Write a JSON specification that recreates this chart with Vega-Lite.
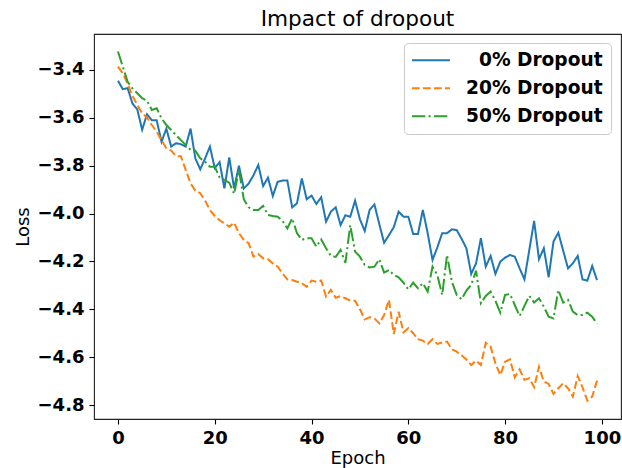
{
  "$schema": "https://vega.github.io/schema/vega-lite/v6.json",
  "width": 527,
  "height": 385,
  "autosize": "none",
  "padding": {"left": 94, "top": 34, "right": 1, "bottom": 49},
  "background": "white",
  "title": {
    "text": "Impact of dropout",
    "font": "DejaVu Sans",
    "fontSize": 21.6,
    "fontWeight": "normal",
    "color": "black",
    "anchor": "middle",
    "frame": "group",
    "baseline": "alphabetic",
    "offset": 8,
    "dy": 22
  },
  "data": {
    "values": [
      {"epoch": 0, "0% Dropout": -3.445, "20% Dropout": -3.386, "50% Dropout": -3.323},
      {"epoch": 1, "0% Dropout": -3.48, "20% Dropout": -3.414, "50% Dropout": -3.386},
      {"epoch": 2, "0% Dropout": -3.476, "20% Dropout": -3.456, "50% Dropout": -3.449},
      {"epoch": 3, "0% Dropout": -3.54, "20% Dropout": -3.509, "50% Dropout": -3.477},
      {"epoch": 4, "0% Dropout": -3.565, "20% Dropout": -3.546, "50% Dropout": -3.497},
      {"epoch": 5, "0% Dropout": -3.65, "20% Dropout": -3.581, "50% Dropout": -3.518},
      {"epoch": 6, "0% Dropout": -3.585, "20% Dropout": -3.598, "50% Dropout": -3.528},
      {"epoch": 7, "0% Dropout": -3.61, "20% Dropout": -3.63, "50% Dropout": -3.567},
      {"epoch": 8, "0% Dropout": -3.61, "20% Dropout": -3.658, "50% Dropout": -3.56},
      {"epoch": 9, "0% Dropout": -3.7, "20% Dropout": -3.693, "50% Dropout": -3.602},
      {"epoch": 10, "0% Dropout": -3.645, "20% Dropout": -3.727, "50% Dropout": -3.63},
      {"epoch": 11, "0% Dropout": -3.72, "20% Dropout": -3.737, "50% Dropout": -3.651},
      {"epoch": 12, "0% Dropout": -3.706, "20% Dropout": -3.76, "50% Dropout": -3.672},
      {"epoch": 13, "0% Dropout": -3.71, "20% Dropout": -3.76, "50% Dropout": -3.693},
      {"epoch": 14, "0% Dropout": -3.72, "20% Dropout": -3.818, "50% Dropout": -3.713},
      {"epoch": 15, "0% Dropout": -3.645, "20% Dropout": -3.874, "50% Dropout": -3.734},
      {"epoch": 16, "0% Dropout": -3.77, "20% Dropout": -3.904, "50% Dropout": -3.737},
      {"epoch": 17, "0% Dropout": -3.815, "20% Dropout": -3.915, "50% Dropout": -3.769},
      {"epoch": 18, "0% Dropout": -3.77, "20% Dropout": -3.946, "50% Dropout": -3.783},
      {"epoch": 19, "0% Dropout": -3.72, "20% Dropout": -3.985, "50% Dropout": -3.804},
      {"epoch": 20, "0% Dropout": -3.81, "20% Dropout": -4.01, "50% Dropout": -3.804},
      {"epoch": 21, "0% Dropout": -3.785, "20% Dropout": -4.028, "50% Dropout": -3.848},
      {"epoch": 22, "0% Dropout": -3.895, "20% Dropout": -4.041, "50% Dropout": -3.86},
      {"epoch": 23, "0% Dropout": -3.765, "20% Dropout": -4.055, "50% Dropout": -3.871},
      {"epoch": 24, "0% Dropout": -3.895, "20% Dropout": -4.038, "50% Dropout": -3.918},
      {"epoch": 25, "0% Dropout": -3.8, "20% Dropout": -4.082, "50% Dropout": -3.818},
      {"epoch": 26, "0% Dropout": -3.895, "20% Dropout": -4.11, "50% Dropout": -3.94},
      {"epoch": 27, "0% Dropout": -3.875, "20% Dropout": -4.124, "50% Dropout": -3.974},
      {"epoch": 28, "0% Dropout": -3.84, "20% Dropout": -4.18, "50% Dropout": -3.985},
      {"epoch": 29, "0% Dropout": -3.797, "20% Dropout": -4.169, "50% Dropout": -3.985},
      {"epoch": 30, "0% Dropout": -3.885, "20% Dropout": -4.187, "50% Dropout": -3.968},
      {"epoch": 31, "0% Dropout": -3.85, "20% Dropout": -4.191, "50% Dropout": -4.006},
      {"epoch": 32, "0% Dropout": -3.927, "20% Dropout": -4.208, "50% Dropout": -4.01},
      {"epoch": 33, "0% Dropout": -3.867, "20% Dropout": -4.222, "50% Dropout": -4.013},
      {"epoch": 34, "0% Dropout": -3.862, "20% Dropout": -4.25, "50% Dropout": -4.03},
      {"epoch": 35, "0% Dropout": -3.862, "20% Dropout": -4.275, "50% Dropout": -4.062},
      {"epoch": 36, "0% Dropout": -3.974, "20% Dropout": -4.278, "50% Dropout": -4.02},
      {"epoch": 37, "0% Dropout": -3.957, "20% Dropout": -4.285, "50% Dropout": -4.082},
      {"epoch": 38, "0% Dropout": -3.853, "20% Dropout": -4.291, "50% Dropout": -4.11},
      {"epoch": 39, "0% Dropout": -3.94, "20% Dropout": -4.306, "50% Dropout": -4.103},
      {"epoch": 40, "0% Dropout": -3.925, "20% Dropout": -4.28, "50% Dropout": -4.103},
      {"epoch": 41, "0% Dropout": -3.96, "20% Dropout": -4.285, "50% Dropout": -4.138},
      {"epoch": 42, "0% Dropout": -3.932, "20% Dropout": -4.28, "50% Dropout": -4.108},
      {"epoch": 43, "0% Dropout": -4.034, "20% Dropout": -4.347, "50% Dropout": -4.145},
      {"epoch": 44, "0% Dropout": -3.992, "20% Dropout": -4.319, "50% Dropout": -4.177},
      {"epoch": 45, "0% Dropout": -3.974, "20% Dropout": -4.352, "50% Dropout": -4.181},
      {"epoch": 46, "0% Dropout": -4.048, "20% Dropout": -4.345, "50% Dropout": -4.152},
      {"epoch": 47, "0% Dropout": -4.007, "20% Dropout": -4.354, "50% Dropout": -4.206},
      {"epoch": 48, "0% Dropout": -4.013, "20% Dropout": -4.364, "50% Dropout": -4.048},
      {"epoch": 49, "0% Dropout": -3.946, "20% Dropout": -4.364, "50% Dropout": -4.159},
      {"epoch": 50, "0% Dropout": -4.024, "20% Dropout": -4.4, "50% Dropout": -4.18},
      {"epoch": 51, "0% Dropout": -4.073, "20% Dropout": -4.442, "50% Dropout": -4.215},
      {"epoch": 52, "0% Dropout": -3.985, "20% Dropout": -4.433, "50% Dropout": -4.225},
      {"epoch": 53, "0% Dropout": -3.962, "20% Dropout": -4.438, "50% Dropout": -4.222},
      {"epoch": 54, "0% Dropout": -4.044, "20% Dropout": -4.459, "50% Dropout": -4.191},
      {"epoch": 55, "0% Dropout": -4.122, "20% Dropout": -4.424, "50% Dropout": -4.247},
      {"epoch": 56, "0% Dropout": -4.09, "20% Dropout": -4.361, "50% Dropout": -4.236},
      {"epoch": 57, "0% Dropout": -4.057, "20% Dropout": -4.503, "50% Dropout": -4.257},
      {"epoch": 58, "0% Dropout": -3.992, "20% Dropout": -4.41, "50% Dropout": -4.266},
      {"epoch": 59, "0% Dropout": -4.013, "20% Dropout": -4.497, "50% Dropout": -4.289},
      {"epoch": 60, "0% Dropout": -4.013, "20% Dropout": -4.479, "50% Dropout": -4.317},
      {"epoch": 61, "0% Dropout": -4.085, "20% Dropout": -4.5, "50% Dropout": -4.289},
      {"epoch": 62, "0% Dropout": -4.085, "20% Dropout": -4.525, "50% Dropout": -4.312},
      {"epoch": 63, "0% Dropout": -3.985, "20% Dropout": -4.531, "50% Dropout": -4.291},
      {"epoch": 64, "0% Dropout": -4.082, "20% Dropout": -4.545, "50% Dropout": -4.326},
      {"epoch": 65, "0% Dropout": -4.194, "20% Dropout": -4.525, "50% Dropout": -4.222},
      {"epoch": 66, "0% Dropout": -4.141, "20% Dropout": -4.545, "50% Dropout": -4.257},
      {"epoch": 67, "0% Dropout": -4.082, "20% Dropout": -4.539, "50% Dropout": -4.34},
      {"epoch": 68, "0% Dropout": -4.082, "20% Dropout": -4.535, "50% Dropout": -4.173},
      {"epoch": 69, "0% Dropout": -4.066, "20% Dropout": -4.567, "50% Dropout": -4.285},
      {"epoch": 70, "0% Dropout": -4.069, "20% Dropout": -4.577, "50% Dropout": -4.34},
      {"epoch": 71, "0% Dropout": -4.105, "20% Dropout": -4.592, "50% Dropout": -4.358},
      {"epoch": 72, "0% Dropout": -4.145, "20% Dropout": -4.61, "50% Dropout": -4.322},
      {"epoch": 73, "0% Dropout": -4.252, "20% Dropout": -4.633, "50% Dropout": -4.298},
      {"epoch": 74, "0% Dropout": -4.208, "20% Dropout": -4.615, "50% Dropout": -4.239},
      {"epoch": 75, "0% Dropout": -4.103, "20% Dropout": -4.633, "50% Dropout": -4.375},
      {"epoch": 76, "0% Dropout": -4.222, "20% Dropout": -4.54, "50% Dropout": -4.344},
      {"epoch": 77, "0% Dropout": -4.177, "20% Dropout": -4.556, "50% Dropout": -4.326},
      {"epoch": 78, "0% Dropout": -4.252, "20% Dropout": -4.626, "50% Dropout": -4.364},
      {"epoch": 79, "0% Dropout": -4.201, "20% Dropout": -4.675, "50% Dropout": -4.414},
      {"epoch": 80, "0% Dropout": -4.184, "20% Dropout": -4.619, "50% Dropout": -4.34},
      {"epoch": 81, "0% Dropout": -4.173, "20% Dropout": -4.609, "50% Dropout": -4.336},
      {"epoch": 82, "0% Dropout": -4.18, "20% Dropout": -4.684, "50% Dropout": -4.382},
      {"epoch": 83, "0% Dropout": -4.229, "20% Dropout": -4.651, "50% Dropout": -4.428},
      {"epoch": 84, "0% Dropout": -4.275, "20% Dropout": -4.695, "50% Dropout": -4.386},
      {"epoch": 85, "0% Dropout": -4.152, "20% Dropout": -4.688, "50% Dropout": -4.344},
      {"epoch": 86, "0% Dropout": -4.031, "20% Dropout": -4.726, "50% Dropout": -4.372},
      {"epoch": 87, "0% Dropout": -4.191, "20% Dropout": -4.64, "50% Dropout": -4.354},
      {"epoch": 88, "0% Dropout": -4.145, "20% Dropout": -4.702, "50% Dropout": -4.389},
      {"epoch": 89, "0% Dropout": -4.266, "20% Dropout": -4.712, "50% Dropout": -4.431},
      {"epoch": 90, "0% Dropout": -4.117, "20% Dropout": -4.754, "50% Dropout": -4.438},
      {"epoch": 91, "0% Dropout": -4.08, "20% Dropout": -4.73, "50% Dropout": -4.319},
      {"epoch": 92, "0% Dropout": -4.155, "20% Dropout": -4.709, "50% Dropout": -4.372},
      {"epoch": 93, "0% Dropout": -4.229, "20% Dropout": -4.73, "50% Dropout": -4.361},
      {"epoch": 94, "0% Dropout": -4.208, "20% Dropout": -4.765, "50% Dropout": -4.41},
      {"epoch": 95, "0% Dropout": -4.177, "20% Dropout": -4.679, "50% Dropout": -4.424},
      {"epoch": 96, "0% Dropout": -4.275, "20% Dropout": -4.726, "50% Dropout": -4.424},
      {"epoch": 97, "0% Dropout": -4.28, "20% Dropout": -4.782, "50% Dropout": -4.414},
      {"epoch": 98, "0% Dropout": -4.219, "20% Dropout": -4.765, "50% Dropout": -4.431},
      {"epoch": 99, "0% Dropout": -4.278, "20% Dropout": -4.698, "50% Dropout": -4.461}
    ]
  },
  "transform": [
    {"fold": ["0% Dropout", "20% Dropout", "50% Dropout"], "as": ["run", "loss"]}
  ],
  "mark": {"type": "line", "strokeWidth": 2, "clip": true},
  "encoding": {
    "x": {
      "field": "epoch",
      "type": "quantitative",
      "title": "Epoch",
      "scale": {"domain": [-4.95, 103.95], "nice": false, "zero": false},
      "axis": {"values": [0, 20, 40, 60, 80, 100], "format": "d"}
    },
    "y": {
      "field": "loss",
      "type": "quantitative",
      "title": "Loss",
      "scale": {"domain": [-4.8585, -3.2496], "nice": false, "zero": false},
      "axis": {"values": [-4.8, -4.6, -4.4, -4.2, -4.0, -3.8, -3.6, -3.4], "format": ".1f"}
    },
    "color": {
      "field": "run",
      "type": "nominal",
      "scale": {
        "domain": ["0% Dropout", "20% Dropout", "50% Dropout"],
        "range": ["#1f77b4", "#ff7f0e", "#2ca02c"]
      },
      "legend": {
        "title": null,
        "labelExpr": "datum.value == '0% Dropout' ? '\u200b\u2007' + datum.label : datum.label"
      }
    },
    "strokeDash": {
      "field": "run",
      "type": "nominal",
      "scale": {
        "domain": ["0% Dropout", "20% Dropout", "50% Dropout"],
        "range": [[1, 0], [7.7, 3.3], [13.3, 3.3, 2.1, 3.3]]
      },
      "legend": {
        "title": null,
        "labelExpr": "datum.value == '0% Dropout' ? '\u200b\u2007' + datum.label : datum.label"
      }
    }
  },
  "config": {
    "font": "DejaVu Sans",
    "view": {"stroke": "#222222", "strokeWidth": 1.1, "fill": "white"},
    "axis": {
      "grid": false,
      "domain": false,
      "tickColor": "black",
      "tickWidth": 1.1,
      "tickSize": 5,
      "labelPadding": 5,
      "labelFont": "DejaVu Sans",
      "labelFontSize": 18,
      "labelFontWeight": "bold",
      "labelColor": "black",
      "titleFont": "DejaVu Sans",
      "titleFontSize": 18,
      "titleFontWeight": "normal",
      "titleColor": "black"
    },
    "axisX": {"titlePadding": 2, "labelFlush": false},
    "axisY": {"titlePadding": 5, "labelFlush": false},
    "legend": {
      "orient": "none",
      "legendX": 310,
      "legendY": 9,
      "padding": 8,
      "fillColor": "white",
      "strokeColor": "#cccccc",
      "cornerRadius": 4,
      "symbolType": "M-1.47,0H4.54",
      "symbolSize": 160,
      "symbolStrokeWidth": 2,
      "labelOffset": 35.4,
      "rowPadding": 9,
      "labelFont": "DejaVu Sans",
      "labelFontSize": 18.6,
      "labelFontWeight": "bold",
      "labelColor": "black",
      "labelLimit": 300
    }
  }
}
